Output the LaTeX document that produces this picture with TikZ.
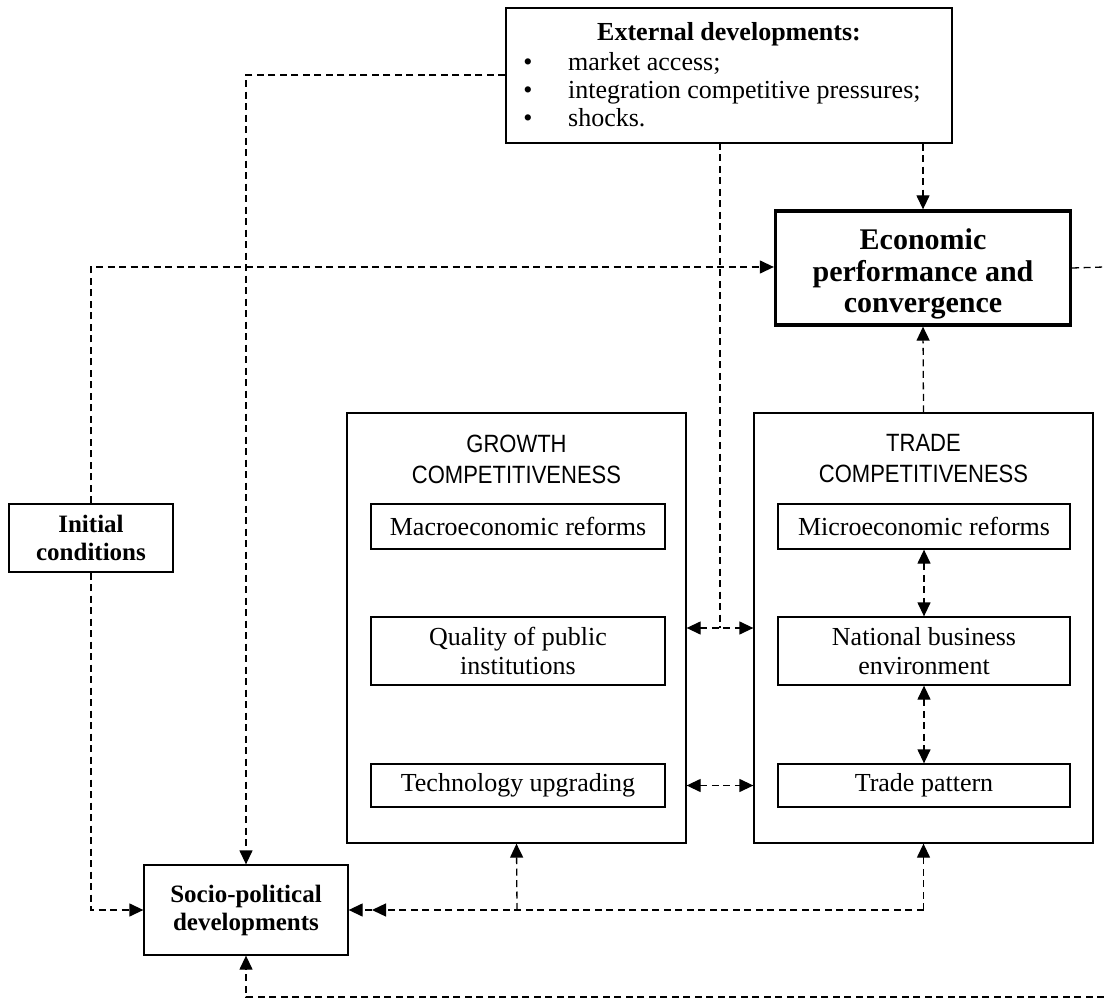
\documentclass[tikz,border=0pt]{standalone}
\usepackage{fontspec}
\setmainfont{Liberation Serif}
\newfontfamily\hdrfont[FakeStretch=0.88]{Liberation Sans}
\usetikzlibrary{arrows.meta}
\begin{document}
\begin{tikzpicture}[x=1pt,y=-1pt,
  box/.style={draw,line width=1.3pt,inner sep=0pt},
  thickbox/.style={draw,line width=3.3pt,inner sep=0pt},
  plain/.style={dash pattern=on 7pt off 4.5pt,line width=1.3pt},
  conn/.style={plain,-{Triangle[length=14pt,width=13pt]}},
  conn2/.style={plain,{Triangle[length=14pt,width=13pt]}-{Triangle[length=14pt,width=13pt]}},
  txt/.style={font=\fontsize{26}{29.5}\selectfont,align=center},
  btxt/.style={font=\fontsize{25}{28}\selectfont\bfseries,align=center},
  stxt/.style={font=\hdrfont\fontsize{25}{31}\selectfont,align=center},
  ttxt/.style={font=\fontsize{26}{29}\selectfont,inner sep=0pt,anchor=base}]
\useasboundingbox (0,0) rectangle (1104,1000);
% top box
\node[box,minimum width=446pt,minimum height=135pt] (ext) at (729,75.5) {};
\node[ttxt,font=\fontsize{26}{29}\selectfont\bfseries] (extt) at (729,41) {External developments:};
\node[ttxt] (d1) at (528,71) {\textbullet};
\node[ttxt] (d2) at (528,99) {\textbullet};
\node[ttxt] (d3) at (528,127) {\textbullet};
\node[ttxt,anchor=base west] (b1) at (568,71) {market access;};
\node[ttxt,anchor=base west] (b2) at (568,99) {integration competitive pressures;};
\node[ttxt,anchor=base west] (b3) at (568,127) {shocks.};
% econ box
\node[thickbox,minimum width=295pt,minimum height=114pt] (econ) at (923,268) {};
\node[font=\fontsize{30}{31.5}\selectfont\bfseries,align=center,inner sep=0pt] (econt) at (923,274) {Economic\\performance and\\convergence};
% growth
\node[box,minimum width=339pt,minimum height=430pt] (grow) at (516.5,628) {};
\node[stxt] (growt) at (516.5,459) {GROWTH\\COMPETITIVENESS};
\node[box,minimum width=294pt,minimum height=45pt,txt] (macro) at (518,526.5) {Macroeconomic reforms};
\node[box,minimum width=294pt,minimum height=68pt,txt] (qual) at (518,651) {Quality of public\\institutions};
\node[box,minimum width=294pt,minimum height=43pt,txt] (tech) at (518,785.5) {Technology upgrading};
% trade
\node[box,minimum width=339pt,minimum height=430pt] (trade) at (923.5,628) {};
\node[stxt] (tradet) at (923.5,459) {TRADE\\COMPETITIVENESS};
\node[box,minimum width=292pt,minimum height=45pt,txt] (micro) at (924,526.5) {Microeconomic reforms};
\node[box,minimum width=292pt,minimum height=68pt,txt] (nat) at (924,651) {National business\\environment};
\node[box,minimum width=292pt,minimum height=43pt,txt] (tpat) at (924,785.5) {Trade pattern};
% initial
\node[box,minimum width=164pt,minimum height=68pt,btxt] (init) at (91,538) {Initial\\conditions};
% socio
\node[box,minimum width=204pt,minimum height=90pt,btxt] (socio) at (246,910) {Socio-political\\developments};
% coordinates
\coordinate (c1) at (246,75);
\coordinate (c3) at (91,267);
\coordinate (c4) at (91,910);
\coordinate (c5) at (720,628);
\coordinate (c6) at (1104,267);
\coordinate (c7) at (1104,997);
\coordinate (c8) at (246,997);
\coordinate (c9) at (517,910);
\coordinate (c10) at (923.5,910);
\coordinate (c11) at (720,143);
\coordinate (c12) at (372,910);
% connectors
\draw[conn] (ext.west |- c1) -- (c1) -- (c1 |- socio.north);
\draw[conn] (ext.south -| econ.north) -- (econ.north);
\draw[conn] (init.north) -- (c3) -- (econ.west |- c3);
\draw[conn] (init.south) -- (c4) -- (socio.west);
\draw[plain] (c11) -- (c5);
\draw[conn2] (grow.east |- c5) -- (trade.west |- c5);
\draw[conn2] (grow.east |- tech) -- (trade.west |- tech);
\draw[conn] (trade.north) -- (econ.south);
\draw[conn2] (micro.south) -- (nat.north);
\draw[conn2] (nat.south) -- (tpat.north);
\draw[plain] (econ.east) -- (c6);
\draw[conn] (c7) -- (c8) -- (socio.south);
\draw[conn] (c9) -- (grow.south);
\draw[conn] (c10) -- (trade.south);
\draw[conn] (c10) -- (c9) -- (c12);
\draw[conn] (c12) -- (socio.east);
\end{tikzpicture}
\end{document}
